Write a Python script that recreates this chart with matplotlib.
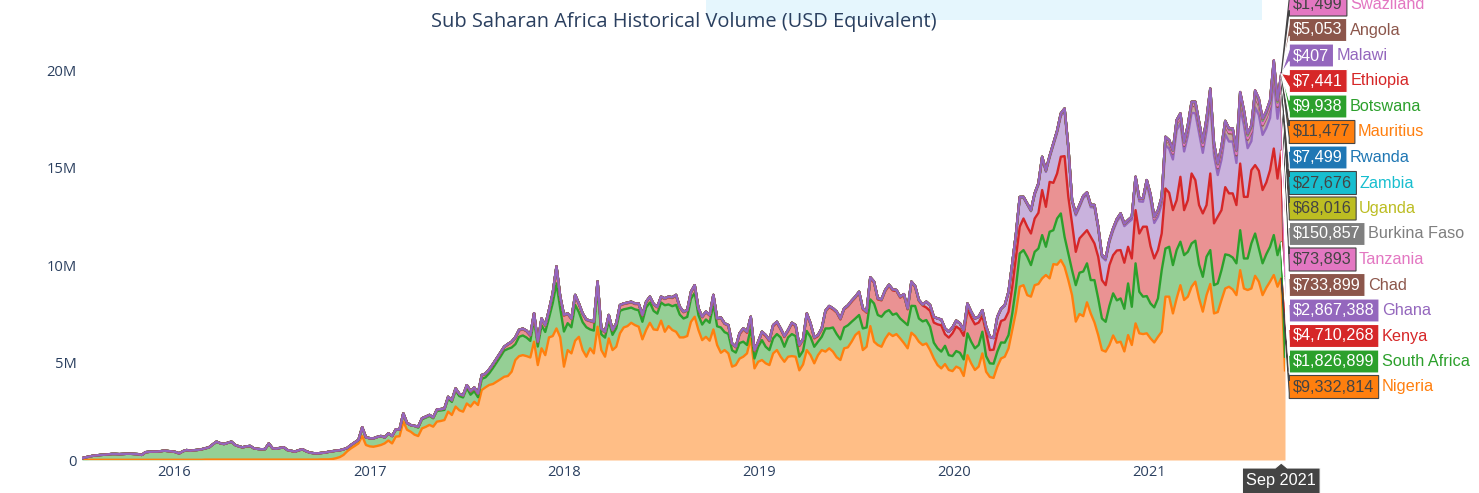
import numpy as np
import pandas as pd
import matplotlib
matplotlib.use('Agg')
import matplotlib.pyplot as plt
import matplotlib.dates as mdates
from matplotlib.colors import to_rgba, to_rgb
from matplotlib.patches import Polygon, Rectangle
from matplotlib.transforms import IdentityTransform
from matplotlib.ticker import FuncFormatter

W, H = 1479, 493

# ── Weekly volume, Jul 2015 – Sep 2021 ────────────────────────────────────────
weeks = pd.date_range('2015-07-12', periods=323, freq='7D')
hover_week = pd.Timestamp('2021-09-05')

# USD millions
nigeria_m = [
    0.00, 0.00, 0.01, 0.01, 0.01, 0.01, 0.01, 0.01, 0.01, 0.01,
    0.01, 0.01, 0.01, 0.01, 0.01, 0.01, 0.01, 0.01, 0.01, 0.01,
    0.01, 0.01, 0.01, 0.01, 0.01, 0.01, 0.01, 0.01, 0.01, 0.01,
    0.01, 0.01, 0.01, 0.02, 0.02, 0.02, 0.02, 0.02, 0.02, 0.02,
    0.02, 0.02, 0.02, 0.02, 0.02, 0.02, 0.02, 0.02, 0.02, 0.02,
    0.02, 0.02, 0.02, 0.02, 0.02, 0.02, 0.02, 0.02, 0.02, 0.02,
    0.02, 0.02, 0.02, 0.02, 0.03, 0.03, 0.03, 0.05, 0.09, 0.15,
    0.26, 0.45, 0.60, 0.72, 0.85, 1.23, 0.77, 0.70, 0.68, 0.72,
    0.77, 0.85, 1.00, 0.85, 1.20, 1.22, 1.97, 1.55, 1.45, 1.30,
    1.23, 1.62, 1.70, 1.80, 1.71, 1.97, 2.00, 2.05, 2.48, 2.31,
    2.74, 2.55, 2.48, 2.90, 2.74, 2.99, 2.82, 3.59, 3.73, 3.85,
    3.90, 4.02, 4.14, 4.27, 4.31, 4.53, 5.13, 5.33, 5.38, 5.33,
    5.26, 6.07, 4.87, 5.73, 5.38, 6.29, 6.36, 6.75, 6.29, 4.79,
    5.64, 5.47, 6.12, 6.32, 5.64, 5.30, 5.73, 5.47, 6.84, 5.64,
    5.30, 6.24, 5.64, 5.81, 6.50, 6.80, 6.87, 7.04, 6.92, 6.84,
    6.19, 6.67, 7.04, 6.70, 6.67, 7.15, 6.58, 6.87, 6.67, 6.58,
    6.29, 6.29, 6.36, 7.09, 7.35, 6.67, 6.15, 6.32, 6.12, 6.70,
    5.90, 5.50, 5.64, 5.47, 4.79, 4.87, 5.20, 5.30, 5.47, 6.24,
    4.70, 5.04, 5.13, 4.96, 4.87, 5.47, 5.64, 5.30, 5.04, 5.30,
    5.33, 5.30, 4.60, 4.90, 5.64, 5.38, 4.96, 5.38, 5.64, 5.56,
    5.73, 5.56, 5.27, 5.13, 5.73, 5.78, 6.07, 6.41, 6.58, 5.64,
    5.81, 6.87, 6.07, 5.90, 5.81, 6.22, 6.50, 6.36, 6.46, 6.24,
    6.00, 5.73, 6.53, 6.36, 6.07, 5.90, 5.98, 5.64, 5.21, 4.87,
    4.70, 4.92, 4.62, 4.56, 4.79, 4.70, 4.31, 5.38, 4.96, 4.62,
    4.79, 5.47, 4.53, 4.26, 4.21, 4.79, 5.21, 5.30, 5.73, 6.67,
    7.61, 8.89, 8.97, 8.46, 8.38, 8.97, 9.03, 9.32, 9.49, 9.32,
    10.05, 10.02, 10.26, 9.91, 9.23, 8.46, 7.10, 7.49, 7.38, 8.09,
    7.52, 7.06, 6.41, 5.64, 5.56, 5.90, 6.39, 6.02, 6.07, 5.57,
    6.41, 5.90, 7.01, 6.50, 6.46, 6.50, 6.24, 6.03, 6.32, 6.58,
    8.38, 8.38, 7.52, 8.29, 8.97, 8.21, 8.38, 8.89, 9.15, 8.29,
    7.61, 8.46, 9.03, 7.52, 7.59, 8.21, 8.80, 8.89, 8.75, 8.46,
    9.74, 8.80, 8.72, 8.80, 9.45, 9.15, 8.46, 8.84, 9.15, 9.49,
    8.89, 9.332814, 4.60,
]

south_africa_m = [
    0.09, 0.14, 0.17, 0.21, 0.23, 0.25, 0.26, 0.28, 0.30, 0.30,
    0.29, 0.30, 0.31, 0.31, 0.30, 0.29, 0.25, 0.39, 0.41, 0.42,
    0.42, 0.44, 0.47, 0.45, 0.43, 0.40, 0.33, 0.44, 0.50, 0.47,
    0.49, 0.51, 0.54, 0.58, 0.63, 0.78, 0.92, 0.84, 0.80, 0.86,
    0.92, 0.75, 0.68, 0.63, 0.68, 0.70, 0.58, 0.55, 0.53, 0.54,
    0.83, 0.58, 0.56, 0.60, 0.63, 0.49, 0.45, 0.41, 0.48, 0.53,
    0.43, 0.36, 0.33, 0.32, 0.33, 0.35, 0.39, 0.40, 0.39, 0.35,
    0.29, 0.17, 0.17, 0.18, 0.18, 0.45, 0.39, 0.42, 0.43, 0.46,
    0.46, 0.31, 0.37, 0.38, 0.37, 0.35, 0.42, 0.35, 0.34, 0.45,
    0.43, 0.47, 0.47, 0.46, 0.43, 0.55, 0.54, 0.52, 0.67, 0.67,
    0.82, 0.73, 0.73, 0.80, 0.61, 0.54, 0.40, 0.57, 0.51, 0.60,
    0.82, 0.99, 1.16, 1.34, 1.39, 1.24, 0.81, 0.99, 1.01, 0.95,
    0.85, 1.15, 0.95, 1.18, 1.19, 1.00, 1.69, 2.31, 1.49, 1.80,
    1.38, 1.34, 1.84, 1.26, 1.43, 1.51, 0.97, 1.17, 2.01, 0.81,
    0.98, 0.90, 0.78, 0.95, 1.15, 0.93, 0.90, 0.78, 0.81, 0.84,
    0.90, 1.15, 1.04, 0.95, 0.84, 0.93, 1.36, 1.11, 1.22, 1.38,
    1.17, 0.97, 0.98, 1.19, 1.22, 0.76, 0.80, 0.89, 0.92, 1.31,
    0.96, 1.30, 0.92, 1.00, 0.84, 0.64, 0.80, 0.77, 0.43, 0.51,
    0.51, 0.77, 1.02, 0.85, 0.77, 0.77, 0.82, 0.99, 0.77, 0.99,
    1.13, 1.06, 0.70, 0.70, 0.98, 0.93, 0.85, 0.69, 0.68, 1.19,
    1.02, 1.24, 1.19, 1.06, 1.07, 1.13, 1.02, 0.85, 0.86, 1.11,
    0.99, 1.37, 1.96, 1.54, 1.54, 1.37, 1.19, 1.09, 1.06, 1.02,
    1.09, 1.19, 1.38, 1.54, 1.19, 1.21, 1.20, 1.20, 0.81, 0.86,
    0.86, 0.94, 0.76, 0.77, 0.80, 0.80, 0.85, 1.12, 1.11, 1.11,
    1.11, 1.11, 0.80, 0.70, 0.73, 0.77, 0.82, 0.72, 0.68, 0.85,
    1.28, 1.71, 1.80, 1.97, 1.62, 1.71, 1.82, 2.22, 1.45, 2.39,
    1.74, 2.37, 2.39, 1.54, 1.37, 1.28, 1.87, 2.12, 2.29, 2.00,
    1.71, 2.17, 1.88, 1.62, 1.53, 2.01, 2.16, 2.17, 2.22, 2.19,
    2.65, 1.96, 3.08, 2.13, 1.92, 1.91, 1.79, 1.80, 1.97, 3.16,
    2.47, 2.56, 2.48, 2.48, 2.23, 2.30, 2.30, 2.22, 2.10, 1.74,
    1.79, 1.97, 1.74, 1.45, 1.47, 1.53, 1.75, 1.62, 1.64, 1.63,
    2.05, 1.54, 1.62, 2.31, 2.17, 1.70, 1.63, 1.72, 1.79, 2.05,
    1.62, 1.826899, 0.70,
]

# from the first week with volume (Mar 2017 for Kenya, Jun 2017 for Ghana)
kenya_m = [
    0.05, 0.05, 0.05, 0.05, 0.05, 0.07, 0.07, 0.07, 0.09, 0.09,
    0.11, 0.11, 0.11, 0.14, 0.17, 0.17, 0.17, 0.17, 0.17, 0.17,
    0.17, 0.17, 0.17, 0.17, 0.22, 0.27, 0.32, 0.32, 0.32, 0.32,
    0.27, 0.27, 0.22, 0.32, 0.32, 0.37, 0.47, 0.82, 0.57, 0.82,
    0.47, 0.42, 0.47, 0.42, 0.42, 0.37, 0.42, 0.42, 0.27, 0.27,
    0.27, 0.27, 0.22, 0.22, 0.27, 0.27, 0.27, 0.27, 0.27, 0.32,
    0.32, 0.27, 0.27, 0.32, 0.32, 0.27, 0.32, 0.37, 0.42, 0.47,
    0.37, 0.32, 0.32, 0.32, 0.37, 0.32, 0.37, 0.37, 0.37, 0.42,
    0.37, 0.47, 0.42, 0.42, 0.32, 0.27, 0.45, 0.63, 0.63, 0.55,
    0.38, 0.21, 0.38, 0.55, 0.46, 0.63, 0.58, 0.41, 0.50, 0.33,
    0.53, 0.51, 0.55, 0.55, 0.85, 0.65, 0.43, 0.29, 0.38, 0.86,
    1.10, 0.93, 1.10, 1.02, 0.93, 0.97, 1.03, 1.07, 1.14, 0.98,
    0.76, 1.08, 1.07, 0.80, 0.84, 1.08, 1.25, 1.25, 1.15, 1.07,
    1.37, 0.81, 1.19, 0.97, 0.90, 0.82, 0.64, 0.81, 1.03, 1.23,
    1.35, 0.59, 0.90, 1.17, 1.26, 1.21, 1.21, 1.23, 1.24, 1.23,
    1.15, 0.81, 1.21, 0.68, 0.72, 0.94, 1.10, 1.19, 1.20, 1.37,
    1.54, 1.37, 1.62, 1.54, 1.62, 1.71, 1.83, 2.31, 2.05, 2.56,
    2.43, 2.31, 2.91, 4.14, 2.90, 2.40, 1.71, 1.76, 1.91, 1.70,
    2.22, 1.88, 2.14, 1.97, 1.88, 2.09, 1.96, 2.56, 2.48, 2.36,
    1.88, 2.48, 2.73, 2.99, 3.59, 3.56, 2.94, 2.51, 2.48, 1.88,
    3.08, 2.77, 2.82, 2.56, 3.33, 2.31, 2.65, 3.59, 3.11, 3.05,
    3.25, 2.65, 3.93, 3.17, 3.42, 3.08, 3.45, 3.17, 3.29, 2.99,
    3.42, 3.16, 3.16, 3.76, 3.51, 3.99, 3.76, 3.68, 3.93, 4.44,
    3.93, 4.710268, 2.30,
]

ghana_m = [
    0.02, 0.02, 0.03, 0.03, 0.02, 0.03,
    0.03, 0.03, 0.04, 0.03, 0.03, 0.03, 0.04, 0.04, 0.03, 0.03,
    0.03, 0.04, 0.03, 0.03, 0.03, 0.04, 0.04, 0.05, 0.04, 0.04,
    0.03, 0.03, 0.04, 0.03, 0.03, 0.03, 0.03, 0.03, 0.04, 0.03,
    0.03, 0.03, 0.03, 0.03, 0.03, 0.03, 0.03, 0.03, 0.03, 0.03,
    0.03, 0.03, 0.03, 0.03, 0.03, 0.03, 0.03, 0.03, 0.04, 0.04,
    0.03, 0.03, 0.03, 0.03, 0.03, 0.03, 0.03, 0.03, 0.03, 0.04,
    0.03, 0.04, 0.03, 0.03, 0.03, 0.03, 0.05, 0.05, 0.05, 0.05,
    0.05, 0.05, 0.05, 0.05, 0.05, 0.05, 0.05, 0.05, 0.05, 0.05,
    0.05, 0.05, 0.05, 0.05, 0.05, 0.05, 0.05, 0.05, 0.05, 0.05,
    0.05, 0.05, 0.05, 0.05, 0.05, 0.05, 0.05, 0.05, 0.05, 0.05,
    0.05, 0.05, 0.05, 0.05, 0.05, 0.05, 0.05, 0.05, 0.05, 0.05,
    0.05, 0.05, 0.05, 0.05, 0.05, 0.05, 0.30, 0.30, 0.30, 0.30,
    0.30, 0.30, 0.30, 0.30, 0.30, 0.30, 0.30, 0.30, 0.30, 0.30,
    0.30, 0.30, 0.30, 0.67, 0.59, 0.83, 0.62, 0.72, 1.00, 1.17,
    1.15, 1.47, 1.06, 1.13, 1.14, 1.22, 1.43, 1.61, 1.79, 1.24,
    1.92, 2.08, 2.09, 2.30, 2.45, 1.10, 1.87, 1.60, 1.86, 1.82,
    1.52, 1.85, 1.43, 1.19, 1.27, 1.17, 1.25, 1.48, 1.74, 1.88,
    1.24, 2.00, 1.55, 1.65, 1.28, 2.21, 2.36, 1.82, 1.72, 1.51,
    2.23, 2.26, 2.60, 3.59, 2.74, 3.01, 3.31, 3.11, 3.43, 3.70,
    3.11, 3.81, 3.69, 3.49, 2.14, 2.59, 2.71, 2.66, 2.66, 2.16,
    2.88, 3.68, 2.50, 1.49, 2.96, 2.86, 2.83, 2.80, 2.68, 3.51,
    3.07, 2.867388, 1.40,
]

# USD thousands, final weeks only
chad_k = [
    10, 12, 15, 12, 18, 20, 25,
    40, 55, 50, 60, 55, 70, 80, 95, 85, 90,
    100, 110, 130, 140, 120, 90, 100, 110, 105, 120,
    115, 125, 110, 95, 100, 110, 120, 130, 140, 125,
    130, 140, 160, 150, 170, 180,
    200, 190, 210, 220, 260, 280, 300, 330, 310, 290,
    320, 350, 370, 360, 340, 380, 420, 380, 350, 400,
    430, 420, 410, 390, 470, 450, 430, 460, 520, 500,
    480, 510, 560, 640, 600, 733.899, 350,
]
tanzania_k = [
    30, 35, 32, 40, 45, 42, 50, 48, 55, 52, 60, 58, 62, 55, 50, 65, 70, 60,
    58, 66, 72, 68, 64, 70, 75, 70, 68, 72, 80, 76, 70, 74, 78, 82, 76,
    73.893, 35,
]
burkina_faso_k = [
    60, 70, 65, 80, 90, 85, 95, 100, 110, 105, 115, 120, 110, 100, 125, 130,
    120, 115, 135, 140, 130, 125, 140, 150, 145, 135, 140, 155, 150, 145, 160,
    150, 140, 155, 148, 150.857, 70,
]
uganda_k = [
    20, 25, 22, 30, 28, 35, 32, 40, 38, 42, 45, 40, 48, 50, 45, 52, 55, 50,
    48, 55, 58, 60, 56, 52, 60, 62, 58, 64, 66, 60, 62, 70, 65, 68, 64,
    68.016, 30,
]
zambia_k = [18, 22, 20, 25, 24, 28, 26, 22, 27, 30, 25, 27.676, 12]
rwanda_k = [5, 6, 8, 7, 6, 9, 8, 7, 6, 8, 7, 7.499, 3]
mauritius_k = [8, 10, 9, 12, 11, 10, 13, 12, 10, 11, 12, 11.477, 5]
botswana_k = [6, 8, 7, 9, 10, 8, 11, 9, 10, 12, 9, 9.938, 4]
ethiopia_k = [4, 5, 6, 5, 7, 6, 8, 7, 6, 7, 8, 7.441, 3]
malawi_k = [0.3, 0.5, 0.4, 0.6, 0.3, 0.5, 0.4, 0.4, 0.5, 0.3, 0.4, 0.407, 0.2]
angola_k = [5.053, 2]
swaziland_k = [1.499, 0.7]

countries = ['Nigeria', 'South Africa', 'Kenya', 'Ghana', 'Chad', 'Tanzania',
             'Burkina Faso', 'Uganda', 'Zambia', 'Rwanda', 'Mauritius',
             'Botswana', 'Ethiopia', 'Malawi', 'Angola', 'Swaziland']
colors = ['#ff7f0e', '#2ca02c', '#d62728', '#9467bd', '#8c564b', '#e377c2',
          '#7f7f7f', '#bcbd22', '#17becf', '#1f77b4', '#ff7f0e', '#2ca02c',
          '#d62728', '#9467bd', '#8c564b', '#e377c2']


def pad_front(values, scale, fill=0.0):
    values = np.asarray(values, dtype=float) * scale
    return np.concatenate([np.full(len(weeks) - len(values), fill), values])


series = [
    np.asarray(nigeria_m) * 1e6,
    np.asarray(south_africa_m) * 1e6,
    pad_front(kenya_m, 1e6),
    pad_front(ghana_m, 1e6),
    pad_front(chad_k, 1e3),
    pad_front(tanzania_k, 1e3),
    pad_front(burkina_faso_k, 1e3),
    pad_front(uganda_k, 1e3),
    pad_front(zambia_k, 1e3),
    pad_front(rwanda_k, 1e3),
    pad_front(mauritius_k, 1e3),
    pad_front(botswana_k, 1e3),
    pad_front(ethiopia_k, 1e3),
    pad_front(malawi_k, 1e3),
    pad_front(angola_k, 1e3, np.nan),      # not reported before Sep 2021
    pad_front(swaziland_k, 1e3, np.nan),
]
vals = np.vstack(series)
stack_top = np.cumsum(np.nan_to_num(vals), axis=0)
stack_base = stack_top - np.nan_to_num(vals)

# ── Figure ────────────────────────────────────────────────────────────────────
fig = plt.figure(figsize=(W / 100, H / 100), dpi=100)
fig.add_artist(Rectangle((706, H - 20), 556, 20, transform=IdentityTransform(),
                         facecolor='#e5f6fd', edgecolor='none', zorder=0))

ax = fig.add_axes([82 / W, (H - 460) / H, (1285 - 82) / W, (460 - 39) / H])
ax.set_facecolor('white')

for k in range(len(countries)):
    ax.fill_between(weeks, stack_base[k], stack_top[k], color=to_rgba(colors[k], 0.5),
                    linewidth=0, zorder=2)
for k in range(len(countries)):
    line_y = np.where(np.isnan(vals[k]), np.nan, stack_top[k])
    ax.plot(weeks, line_y, color=colors[k], linewidth=1.7, zorder=3,
            solid_joinstyle='round')

ax.set_xlim(weeks[0], weeks[-1])
ax.set_ylim(0, 21.6e6)
for s in ax.spines.values():
    s.set_visible(False)

ax.set_yticks([0, 5e6, 10e6, 15e6, 20e6])
ax.yaxis.set_major_formatter(FuncFormatter(lambda v, p: '0' if v == 0 else f'{v / 1e6:.0f}M'))
ax.set_xticks([pd.Timestamp(f'{y}-01-01') for y in range(2016, 2022)])
ax.xaxis.set_major_formatter(mdates.DateFormatter('%Y'))
ax.tick_params(axis='both', length=0, labelcolor='#2a3f5f')
ax.tick_params(axis='y', pad=4)
ax.tick_params(axis='x', pad=3.5)
for lab in ax.get_xticklabels() + ax.get_yticklabels():
    lab.set_fontfamily(['Open Sans', 'DejaVu Sans'])
    lab.set_fontsize(10.6)

fig.text(684 / W, 1 - 22 / H, 'Sub Saharan Africa Historical Volume (USD Equivalent)',
         ha='center', va='center', fontsize=14.4, color='#2a3f5f',
         family=['Open Sans', 'DejaVu Sans'])

# ── Hover labels at Sep 2021 ──────────────────────────────────────────────────
renderer = fig.canvas.get_renderer()
hover_font = dict(family=['Liberation Sans', 'DejaVu Sans'], size=11.7)
hi = weeks.get_loc(hover_week)
hx = mdates.date2num(weeks[hi])
ident = IdentityTransform()


def text_width(s):
    t = fig.text(0, 0, s, transform=ident, **hover_font)
    w = t.get_window_extent(renderer).width
    t.remove()
    return w


def contrast(c):
    r, g, b = [v * 255 for v in to_rgb(c)]
    return '#444444' if (r * 299 + g * 587 + b * 114) / 1000 > 128 else 'white'


label_h, arrow, pad = 23, 6, 4
for k, name in enumerate(countries):
    ax_px, ay_px = ax.transData.transform((hx, stack_top[k, hi]))
    yc = H - (387 - k * 25.5)
    value = f'${vals[k, hi]:,.0f}'
    w = text_width(value) + 2 * pad
    x0 = ax_px + arrow + 2
    tcol = contrast(colors[k])
    pts = [(ax_px, ay_px), (x0, yc - arrow), (x0, yc - label_h / 2),
           (x0 + w, yc - label_h / 2), (x0 + w, yc + label_h / 2),
           (x0, yc + label_h / 2), (x0, yc + arrow)]
    fig.add_artist(Polygon(pts, closed=True, transform=ident, facecolor=colors[k],
                           edgecolor=tcol, linewidth=0.8, zorder=10))
    fig.text(x0 + pad, yc, value, transform=ident, ha='left', va='center',
             color=tcol, zorder=11, **hover_font)
    fig.text(x0 + w + 3, yc, name, transform=ident, ha='left', va='center',
             color=colors[k], zorder=11, **hover_font)

# x hover label
ax_px, _ = ax.transData.transform((hx, 0))
date_txt = weeks[hi].strftime('%b %Y')
w = text_width(date_txt) + 2 * pad
tip, top, bottom = H - 463, H - 468, -2
pts = [(ax_px, tip), (ax_px + arrow, top), (ax_px + w / 2, top), (ax_px + w / 2, bottom),
       (ax_px - w / 2, bottom), (ax_px - w / 2, top), (ax_px - arrow, top)]
fig.add_artist(Polygon(pts, closed=True, transform=ident, facecolor='#444444',
                       edgecolor='white', linewidth=0.8, zorder=10))
fig.text(ax_px, H - 481, date_txt, transform=ident, ha='center', va='center',
         color='white', zorder=11, **hover_font)

fig.savefig('out.png', dpi=100)
